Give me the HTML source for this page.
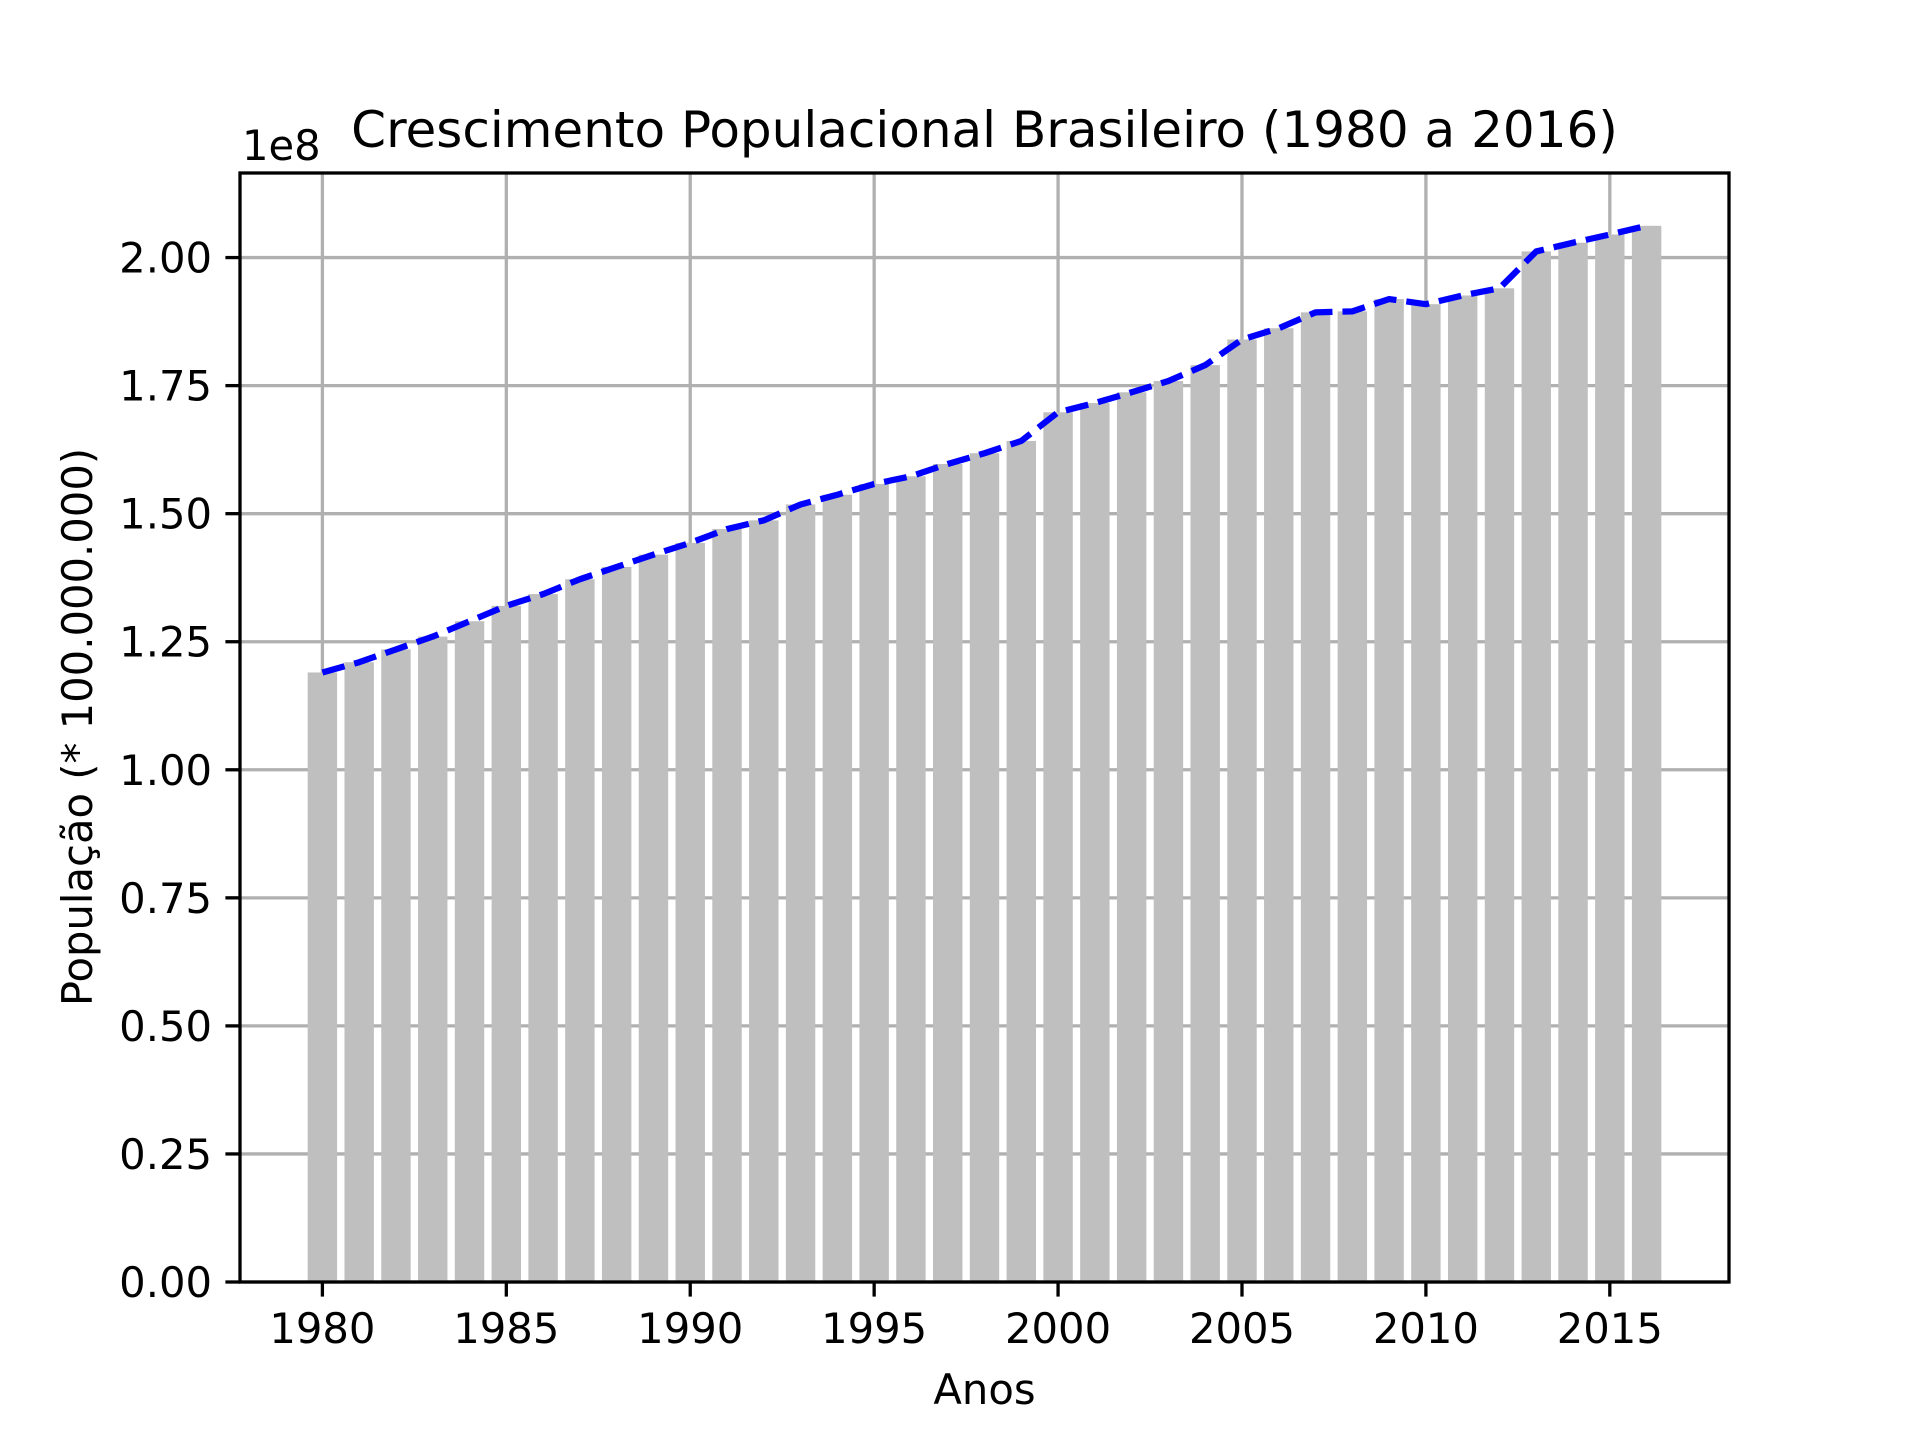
<!DOCTYPE html>
<html><head><meta charset="utf-8"><style>
html,body{margin:0;padding:0;background:#fff;}
svg{display:block;font-family:"DejaVu Sans","Liberation Sans",sans-serif;}
</style></head><body>
<svg id="chart" width="1920" height="1440" viewBox="0 0 1920 1440" xmlns="http://www.w3.org/2000/svg">
<rect width="1920" height="1440" fill="#fff"/>
<g id="grid"></g>
<g id="bars"></g>
<g id="line"></g>
<g id="axes"></g>
<text x="984.5" y="147" font-size="50" text-anchor="middle">Crescimento Populacional Brasileiro (1980 a 2016)</text>
<text x="242" y="160" font-size="41.7">1e8</text>
<text x="984.5" y="1404" font-size="41.7" text-anchor="middle">Anos</text>
<text transform="translate(92,727) rotate(-90)" font-size="41.7" text-anchor="middle">População (* 100.000.000)</text>
</svg>
<script>
const years = [1980,1981,1982,1983,1984,1985,1986,1987,1988,1989,1990,1991,1992,1993,1994,1995,1996,1997,1998,1999,2000,2001,2002,2003,2004,2005,2006,2007,2008,2009,2010,2011,2012,2013,2014,2015,2016];
const population = [1.19,1.21,1.235,1.26,1.29,1.32,1.343,1.372,1.396,1.42,1.443,1.47,1.487,1.518,1.537,1.558,1.573,1.597,1.618,1.642,1.698,1.716,1.737,1.759,1.79,1.84,1.862,1.893,1.895,1.919,1.909,1.926,1.94,2.012,2.029,2.045,2.062];
const xTicks = [1980,1985,1990,1995,2000,2005,2010,2015];
const yTicks = [0,0.25,0.5,0.75,1.0,1.25,1.5,1.75,2.0];
const yTickLabels = ["0.00","0.25","0.50","0.75","1.00","1.25","1.50","1.75","2.00"];

const NS = "http://www.w3.org/2000/svg";
const L = 240, R = 1729, T = 173, B = 1282;
const xmin = years[0] - 0.4, xmax = years[years.length-1] + 0.4;
const xpad = (xmax - xmin) * 0.05;
const x0 = xmin - xpad, x1 = xmax + xpad;
const ymax = Math.max(...population) * 1.05;
const sx = v => L + (v - x0) / (x1 - x0) * (R - L);
const sy = v => B - v / ymax * (B - T);
function mk(tag, attrs, parent) {
  const e = document.createElementNS(NS, tag);
  for (const k in attrs) e.setAttribute(k, attrs[k]);
  parent.appendChild(e);
  return e;
}
const grid = document.getElementById('grid');
const bars = document.getElementById('bars');
const lineG = document.getElementById('line');
const axes = document.getElementById('axes');

xTicks.forEach(t => {
  const g = mk('line', {x1: sx(t), x2: sx(t), y1: T, y2: B, stroke: '#b0b0b0', 'stroke-width': 3.3}, grid);
  
  
});
yTicks.forEach(t => {
  const g = mk('line', {x1: L, x2: R, y1: sy(t), y2: sy(t), stroke: '#b0b0b0', 'stroke-width': 3.3}, grid);
  
  
});

years.forEach((y, i) => {
  const r = mk('rect', {x: sx(y - 0.4), width: sx(y + 0.4) - sx(y - 0.4), y: sy(population[i]), height: B - sy(population[i]), fill: '#bfbfbf'}, bars);
  
  
});

const pts = years.map((y, i) => sx(y).toFixed(2) + ',' + sy(population[i]).toFixed(2)).join(' ');
const pl = mk('polyline', {points: pts, fill: 'none', stroke: '#0000ff', 'stroke-width': 6.25, 'stroke-dasharray': '23 10', 'stroke-linejoin': 'round'}, lineG);



const frame = mk('rect', {x: L, y: T, width: R - L, height: B - T, fill: 'none', stroke: '#000', 'stroke-width': 3.3}, axes);



xTicks.forEach(t => {
  const tk = mk('line', {x1: sx(t), x2: sx(t), y1: B, y2: B + 14.6, stroke: '#000', 'stroke-width': 3.3}, axes);
  
  
  const lb = mk('text', {x: sx(t), y: 1343, 'font-size': 41.7, 'text-anchor': 'middle'}, axes);
  lb.textContent = t;
  
  
});
yTicks.forEach((t, i) => {
  const tk = mk('line', {x1: L - 14.6, x2: L, y1: sy(t), y2: sy(t), stroke: '#000', 'stroke-width': 3.3}, axes);
  
  
  const lb = mk('text', {x: 212, y: sy(t) + 15, 'font-size': 41.7, 'text-anchor': 'end'}, axes);
  lb.textContent = yTickLabels[i];
  
  
});
</script>
</body></html>
